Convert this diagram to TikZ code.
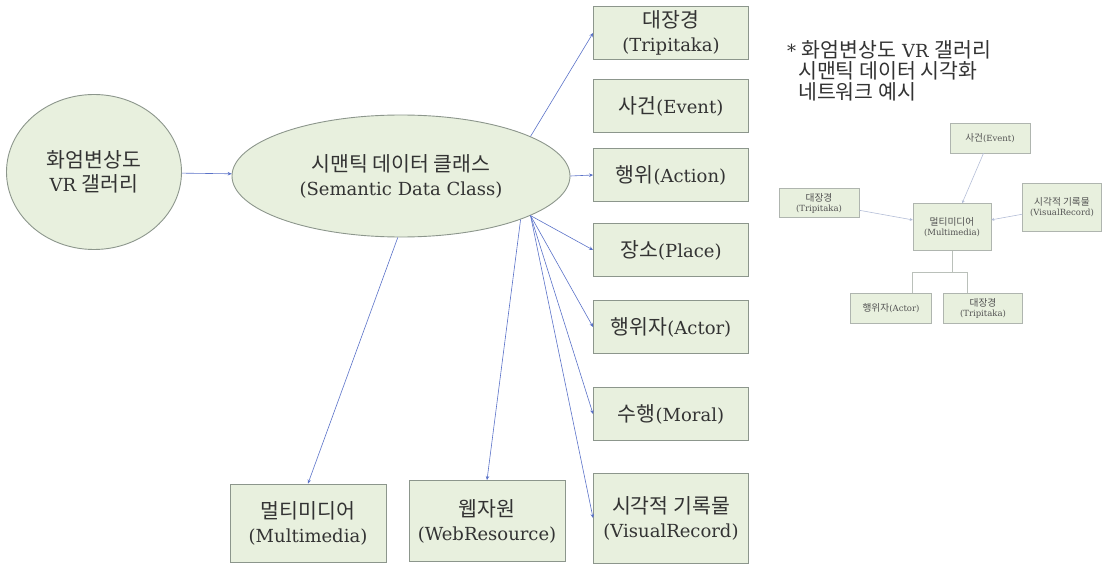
\documentclass[tikz,border=0pt]{standalone}
\usepackage{fontspec}
\setmainfont{DejaVu Serif}
\newfontfamily\kr[Scale=1.14]{Noto Sans CJK KR}
\usetikzlibrary{shapes.geometric,arrows.meta,calc}

\definecolor{boxfill}{HTML}{E8F0DE}
\definecolor{boxline}{HTML}{8C968C}
\definecolor{linkblue}{HTML}{5A72C8}
\definecolor{paleblue}{HTML}{B4BED7}
\definecolor{txtgray}{HTML}{333333}

\tikzset{
  bigtext/.style={font=\fontsize{18}{24}\selectfont, text=txtgray},
  classbox/.style={bigtext, draw=boxline, fill=boxfill, line width=0.9pt,
                   minimum width=155pt, minimum height=53pt, align=center, inner sep=1pt},
  classoval/.style={bigtext, ellipse, draw=boxline, fill=boxfill, line width=0.9pt,
                    align=center, inner sep=0pt},
  minibox/.style={draw=boxline!70, fill=boxfill, line width=0.5pt, minimum width=80pt,
                  minimum height=30pt, align=center, inner sep=1pt,
                  font=\fontsize{8.5}{10}\selectfont, text=txtgray!85},
  link/.style={draw=linkblue, line width=0.6pt, -{Stealth[length=4pt,width=3.5pt]}},
  minilink/.style={draw=paleblue, line width=0.6pt, -{Stealth[length=3pt,width=3pt]}},
  minitree/.style={draw=boxline!60, line width=0.6pt}
}

\begin{document}
\begin{tikzpicture}[x=1pt,y=-1pt]
  \useasboundingbox (0,0) rectangle (1104,567);

  \node[classoval, minimum width=175pt, minimum height=155pt] (gallery) at (94,172)
       {{\kr 화엄변상도}\\VR {\kr 갤러리}};
  \node[classoval, minimum width=338pt, minimum height=122pt] (semclass) at (401,176)
       {{\kr 시맨틱 데이터 클래스}\\(Semantic Data Class)};

  \node[classbox] (tripitaka) at (671,33)  {{\kr 대장경}\\(Tripitaka)};
  \node[classbox] (event)     at (671,106) {{\kr 사건}(Event)};
  \node[classbox] (action)    at (671,175) {{\kr 행위}(Action)};
  \node[classbox] (place)     at (671,250) {{\kr 장소}(Place)};
  \node[classbox] (actor)     at (671,327) {{\kr 행위자}(Actor)};
  \node[classbox] (moral)     at (671,414) {{\kr 수행}(Moral)};
  \node[classbox, minimum height=90pt] (visual) at (671,518) {{\kr 시각적 기록물}\\(VisualRecord)};
  \node[classbox, minimum width=156pt, minimum height=78pt] (multimedia) at (308,523)
       {{\kr 멀티미디어}\\(Multimedia)};
  \node[classbox, minimum width=156pt, minimum height=81pt] (webres) at (487,521)
       {{\kr 웹자원}\\(WebResource)};

  \draw[link] (gallery) -- (semclass);
  \draw[link] (semclass.17) -- (tripitaka.west);
  \draw[link] (semclass.east) -- (action.west);
  \draw[link] (semclass.-17) -- (place.west);
  \draw[link] (semclass.-17) -- (actor.west);
  \draw[link] (semclass.-17) -- (moral.west);
  \draw[link] (semclass.-17) -- (visual.west);
  \draw[link] (semclass.-20) -- (webres.north);
  \draw[link] (semclass.-93) -- (multimedia.north);

  \node[bigtext, font=\fontsize{18}{21}\selectfont, text=black!80, align=left,
        anchor=north west, inner sep=0pt] (note) at (787,40)
       {* {\kr 화엄변상도} VR {\kr 갤러리}\\\hspace*{11pt}{\kr 시맨틱 데이터 시각화}\\\hspace*{11pt}{\kr 네트워크 예시}};

  \node[minibox] (m-event)  at (990,138)  {{\kr 사건}(Event)};
  \node[minibox, minimum height=29pt] (m-trip) at (819,203) {{\kr 대장경}\\(Tripitaka)};
  \node[minibox, minimum width=78pt, minimum height=47pt] (m-multi) at (952,227)
       {{\kr 멀티미디어}\\(Multimedia)};
  \node[minibox, minimum width=79pt, minimum height=48pt] (m-visual) at (1062,207)
       {{\kr 시각적 기록물}\\(VisualRecord)};
  \node[minibox, minimum width=81pt] (m-actor) at (891,308) {{\kr 행위자}(Actor)};
  \node[minibox, minimum width=79pt] (m-trip2) at (983,308) {{\kr 대장경}\\(Tripitaka)};

  \draw[minilink] (m-event) -- (m-multi);
  \draw[minilink] (m-trip) -- (m-multi);
  \draw[minilink] (m-visual) -- (m-multi);

  \coordinate (m-forkL) at ($(m-actor.north)+(21,-20)$);
  \coordinate (m-forkR) at ($(m-trip2.north)+(-16,-20)$);
  \draw[minitree] (m-multi.south) |- (m-forkL) -- (m-forkL |- m-actor.north);
  \draw[minitree] (m-multi.south |- m-forkL) -- (m-forkR) -- (m-forkR |- m-trip2.north);
\end{tikzpicture}
\end{document}
